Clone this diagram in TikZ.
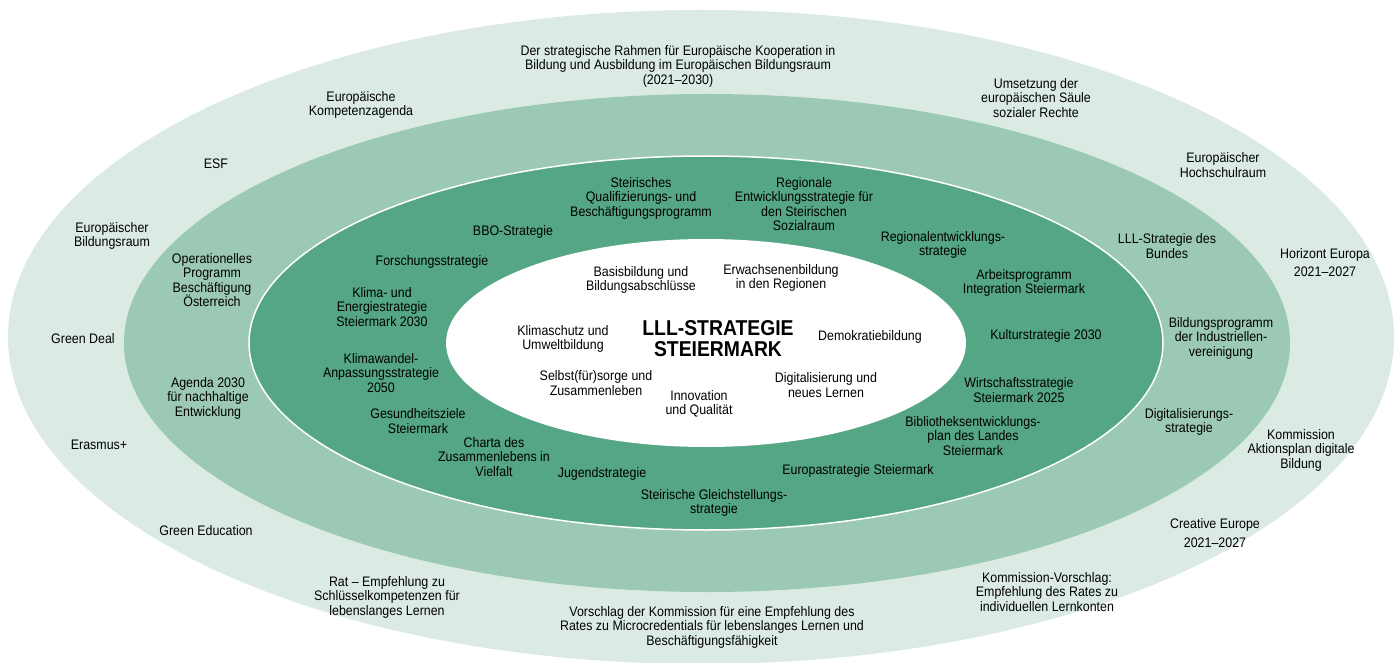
\documentclass[tikz,border=0pt]{standalone}
\usepackage{fontspec}
\setmainfont{Liberation Sans}[FakeStretch=0.9]
\definecolor{ringouter}{RGB}{219,235,228}
\definecolor{ringmid}{RGB}{155,201,180}
\definecolor{ringdark}{RGB}{84,166,132}
\begin{document}
\begin{tikzpicture}
[x=1pt, y=-1pt, font=\fontsize{13.8}{14.5}\selectfont,
lbl/.style={align=center, inner sep=0pt, text=black},
titlelbl/.style={lbl, font=\fontsize{21.5}{21}\selectfont\bfseries}]

\useasboundingbox (0,0) rectangle (1395,663);

\fill[ringouter] (701,337) ellipse [x radius=693pt, y radius=327pt];
\fill[ringmid] (707,343) ellipse [x radius=583pt, y radius=249pt];
\filldraw[fill=ringdark, draw=white, line width=1.5pt] (706,343) ellipse [x radius=457pt, y radius=187pt];
\fill[white] (706,343) ellipse [x radius=260pt, y radius=104pt];

\node[lbl] (rahmen) at (678,66) {Der strategische Rahmen für Europäische Kooperation in\\Bildung und Ausbildung im Europäischen Bildungsraum\\(2021–2030)};
\node[lbl] (kompetenzagenda) at (361,105) {Europäische\\Kompetenzagenda};
\node[lbl] (saeule) at (1036,98) {Umsetzung der\\europäischen Säule\\sozialer Rechte};
\node[lbl] (hochschulraum) at (1223,165) {Europäischer\\Hochschulraum};
\node[lbl] (esf) at (216,164) {ESF};
\node[lbl] (bildungsraum) at (112,236) {Europäischer\\Bildungsraum};
\node[lbl] (horizont) at (1325,263) {Horizont Europa\\[3.5pt]2021–2027};
\node[lbl] (greendeal) at (83,339) {Green Deal};
\node[lbl] (erasmus) at (99,445) {Erasmus+};
\node[lbl] (aktionsplan) at (1301,450) {Kommission\\Aktionsplan digitale\\Bildung};
\node[lbl] (greenedu) at (206,531) {Green Education};
\node[lbl] (creative) at (1215,533) {Creative Europe\\[4pt]2021–2027};
\node[lbl] (schluessel) at (387,597) {Rat – Empfehlung zu\\Schlüsselkompetenzen für\\lebenslanges Lernen};
\node[lbl] (lernkonten) at (1047,592) {Kommission-Vorschlag:\\Empfehlung des Rates zu\\individuellen Lernkonten};
\node[lbl] (microcred) at (712,627) {Vorschlag der Kommission für eine Empfehlung des\\Rates zu Microcredentials für lebenslanges Lernen und\\Beschäftigungsfähigkeit};

\node[lbl] (opprog) at (212,280) {Operationelles\\Programm\\Beschäftigung\\Österreich};
\node[lbl] (lllbund) at (1167,246) {LLL-Strategie des\\Bundes};
\node[lbl] (industrie) at (1221,338) {Bildungsprogramm\\der Industriellen-\\vereinigung};
\node[lbl] (agenda) at (208,398) {Agenda 2030\\für nachhaltige\\Entwicklung};
\node[lbl] (digistrat) at (1189,422) {Digitalisierungs-\\strategie};

\node[lbl] (qualiprog) at (641,198) {Steirisches\\Qualifizierungs- und\\Beschäftigungsprogramm};
\node[lbl] (sozialraum) at (804,204) {Regionale\\Entwicklungsstrategie für\\den Steirischen\\Sozialraum};
\node[lbl] (bbo) at (513,232) {BBO-Strategie};
\node[lbl] (forschung) at (432,262) {Forschungsstrategie};
\node[lbl] (regional) at (943,245) {Regionalentwicklungs-\\strategie};
\node[lbl] (klimaenergie) at (382,307) {Klima- und\\Energiestrategie\\Steiermark 2030};
\node[lbl] (arbeitsprog) at (1024,283) {Arbeitsprogramm\\Integration Steiermark};
\node[lbl] (kultur) at (1046,336) {Kulturstrategie 2030};
\node[lbl] (klimawandel) at (381,373) {Klimawandel-\\Anpassungsstrategie\\2050};
\node[lbl] (wirtschaft) at (1019,390) {Wirtschaftsstrategie\\Steiermark 2025};
\node[lbl] (gesundheit) at (418,421) {Gesundheitsziele\\Steiermark};
\node[lbl] (bibliothek) at (973,436) {Bibliotheksentwicklungs-\\plan des Landes\\Steiermark};
\node[lbl] (charta) at (494,457) {Charta des\\Zusammenlebens in\\Vielfalt};
\node[lbl] (jugend) at (602,474) {Jugendstrategie};
\node[lbl] (europa) at (858,471) {Europastrategie Steiermark};
\node[lbl] (gleichstellung) at (714,503) {Steirische Gleichstellungs-\\strategie};

\node[lbl] (basis) at (641,280) {Basisbildung und\\Bildungsabschlüsse};
\node[lbl] (erwachsenen) at (781,278) {Erwachsenenbildung\\in den Regionen};
\node[lbl] (klimaschutz) at (563,339) {Klimaschutz und\\Umweltbildung};
\node[lbl] (demokratie) at (870,337) {Demokratiebildung};
\node[lbl] (selbstsorge) at (596,383) {Selbst(für)sorge und\\Zusammenleben};
\node[lbl] (innovation) at (699,404) {Innovation\\und Qualität};
\node[lbl] (digital) at (826,385) {Digitalisierung und\\neues Lernen};
\node[titlelbl] (lll) at (718,339) {LLL-STRATEGIE\\STEIERMARK};

\end{tikzpicture}
\end{document}
